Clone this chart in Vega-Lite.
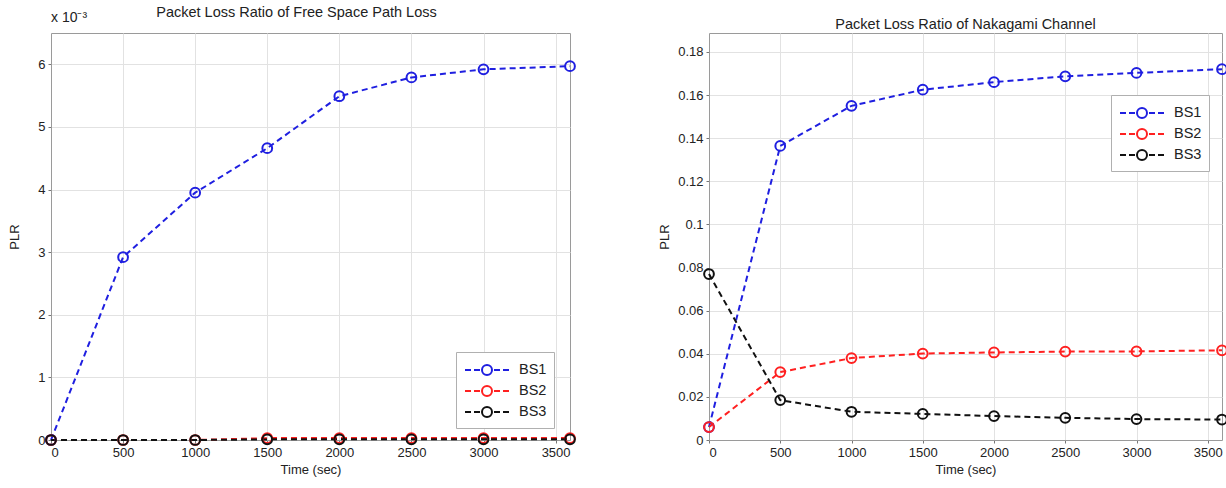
{
  "$schema": "https://vega.github.io/schema/vega-lite/v6.json",
  "background": "white",
  "padding": {"left": 8, "top": 4, "right": 0, "bottom": 0},
  "spacing": 78,
  "config": {
    "font": "Liberation Sans",
    "view": {"stroke": "#9a9a9a", "strokeWidth": 1},
    "axis": {
      "labelFont": "Liberation Sans", "labelFontSize": 13, "labelColor": "#222",
      "titleFont": "Liberation Sans", "titleFontSize": 13, "titleFontWeight": "normal", "titleColor": "#222",
      "domainColor": "#9a9a9a", "tickColor": "#777", "tickSize": 3,
      "gridColor": "#e2e2e2", "gridOpacity": 1, "labelPadding": 3
    },
    "title": {"font": "Liberation Sans", "fontSize": 14.5, "fontWeight": "normal", "color": "#222"},
    "legend": {
      "labelFont": "Liberation Sans", "labelFontSize": 14.5, "labelColor": "#222",
      "strokeColor": "#b0b0b0", "fillColor": "white", "padding": 7, "rowPadding": 1,
      "symbolType": "M-2.2,0H-1.6M-1.3,0H-0.7M0.7,0H1.3M1.6,0H2.2M-0.5,0A0.5,0.5,0,1,1,0.5,0A0.5,0.5,0,1,1,-0.5,0",
      "symbolSize": 400, "symbolStrokeWidth": 2, "symbolFillColor": "transparent",
      "symbolOffset": 13, "labelOffset": 21
    }
  },
  "resolve": {"legend": {"stroke": "independent", "color": "independent"}, "scale": {"color": "independent"}},
  "datasets": {
    "fspl": [
      {"time": 0, "series": "BS1", "plr": 0},
      {"time": 500, "series": "BS1", "plr": 0.00292},
      {"time": 1000, "series": "BS1", "plr": 0.00395},
      {"time": 1500, "series": "BS1", "plr": 0.00466},
      {"time": 2000, "series": "BS1", "plr": 0.00549},
      {"time": 2500, "series": "BS1", "plr": 0.00579},
      {"time": 3000, "series": "BS1", "plr": 0.00592},
      {"time": 3600, "series": "BS1", "plr": 0.00597},
      {"time": 0, "series": "BS2", "plr": 0},
      {"time": 500, "series": "BS2", "plr": 0},
      {"time": 1000, "series": "BS2", "plr": 0},
      {"time": 1500, "series": "BS2", "plr": 0.00003},
      {"time": 2000, "series": "BS2", "plr": 0.00003},
      {"time": 2500, "series": "BS2", "plr": 0.00003},
      {"time": 3000, "series": "BS2", "plr": 0.00003},
      {"time": 3600, "series": "BS2", "plr": 0.00003},
      {"time": 0, "series": "BS3", "plr": 0},
      {"time": 500, "series": "BS3", "plr": 0},
      {"time": 1000, "series": "BS3", "plr": 0},
      {"time": 1500, "series": "BS3", "plr": 0.00001},
      {"time": 2000, "series": "BS3", "plr": 0.00001},
      {"time": 2500, "series": "BS3", "plr": 0.00001},
      {"time": 3000, "series": "BS3", "plr": 0.00001},
      {"time": 3600, "series": "BS3", "plr": 0.00001}
    ],
    "naka": [
      {"time": 0, "series": "BS1", "plr": 0.006},
      {"time": 500, "series": "BS1", "plr": 0.1364},
      {"time": 1000, "series": "BS1", "plr": 0.155},
      {"time": 1500, "series": "BS1", "plr": 0.1625},
      {"time": 2000, "series": "BS1", "plr": 0.166},
      {"time": 2500, "series": "BS1", "plr": 0.1687},
      {"time": 3000, "series": "BS1", "plr": 0.1703},
      {"time": 3600, "series": "BS1", "plr": 0.172},
      {"time": 0, "series": "BS2", "plr": 0.006},
      {"time": 500, "series": "BS2", "plr": 0.0315},
      {"time": 1000, "series": "BS2", "plr": 0.038},
      {"time": 1500, "series": "BS2", "plr": 0.0401},
      {"time": 2000, "series": "BS2", "plr": 0.0406},
      {"time": 2500, "series": "BS2", "plr": 0.041},
      {"time": 3000, "series": "BS2", "plr": 0.0411},
      {"time": 3600, "series": "BS2", "plr": 0.0416},
      {"time": 0, "series": "BS3", "plr": 0.077},
      {"time": 500, "series": "BS3", "plr": 0.0185},
      {"time": 1000, "series": "BS3", "plr": 0.0131},
      {"time": 1500, "series": "BS3", "plr": 0.0121},
      {"time": 2000, "series": "BS3", "plr": 0.0111},
      {"time": 2500, "series": "BS3", "plr": 0.0103},
      {"time": 3000, "series": "BS3", "plr": 0.0097},
      {"time": 3600, "series": "BS3", "plr": 0.0095}
    ],
    "fsplNote": [{"time": 0, "plr": 0.0065, "txt": "x 10⁻³"}]
  },
  "hconcat": [
    {
      "width": 519, "height": 407,
      "title": {"text": "Packet Loss Ratio of Free Space Path Loss", "offset": -9, "dx": -14},
      "layer": [
        {
          "data": {"name": "fspl"},
          "mark": {"type": "line", "strokeDash": [6, 4], "strokeWidth": 2},
          "encoding": {
            "x": {"field": "time", "type": "quantitative", "scale": {"domain": [0, 3600], "nice": false},
                  "axis": {"values": [0, 500, 1000, 1500, 2000, 2500, 3000, 3500], "format": "d", "title": "Time (sec)", "titlePadding": 4}},
            "y": {"field": "plr", "type": "quantitative", "scale": {"domain": [0, 0.0065], "nice": false, "zero": true},
                  "axis": {"values": [0, 0.001, 0.002, 0.003, 0.004, 0.005, 0.006], "labelExpr": "format(datum.value*1000, 'd')", "title": "PLR", "titlePadding": 16}},
            "color": {"field": "series", "type": "nominal",
                      "scale": {"domain": ["BS1", "BS2", "BS3"], "range": ["#1f1fe0", "#ff2020", "#111111"]},
                      "legend": {"title": null, "orient": "none", "legendX": 405, "legendY": 319}}
          }
        },
        {
          "data": {"name": "fspl"},
          "mark": {"type": "point", "shape": "circle", "filled": false, "size": 95, "strokeWidth": 2, "opacity": 1},
          "encoding": {
            "x": {"field": "time", "type": "quantitative"},
            "y": {"field": "plr", "type": "quantitative"},
            "color": {"field": "series", "type": "nominal"}
          }
        },
        {
          "data": {"name": "fsplNote"},
          "mark": {"type": "text", "align": "left", "baseline": "bottom", "dy": -8, "fontSize": 14, "color": "#222"},
          "encoding": {
            "x": {"field": "time", "type": "quantitative"},
            "y": {"field": "plr", "type": "quantitative"},
            "text": {"field": "txt"}
          }
        }
      ]
    },
    {
      "width": 513, "height": 407,
      "title": {"text": "Packet Loss Ratio of Nakagami Channel", "offset": 1},
      "layer": [
        {
          "data": {"name": "naka"},
          "mark": {"type": "line", "strokeDash": [6, 4], "strokeWidth": 2},
          "encoding": {
            "x": {"field": "time", "type": "quantitative", "scale": {"domain": [0, 3600], "nice": false},
                  "axis": {"values": [0, 500, 1000, 1500, 2000, 2500, 3000, 3500], "format": "d", "title": "Time (sec)", "titlePadding": 4}},
            "y": {"field": "plr", "type": "quantitative", "scale": {"domain": [0, 0.1888], "nice": false, "zero": true},
                  "axis": {"values": [0, 0.02, 0.04, 0.06, 0.08, 0.1, 0.12, 0.14, 0.16, 0.18], "labelExpr": "format(datum.value, '.2~f')", "title": "PLR", "titlePadding": 6}},
            "color": {"field": "series", "type": "nominal",
                      "scale": {"domain": ["BS1", "BS2", "BS3"], "range": ["#1f1fe0", "#ff2020", "#111111"]},
                      "legend": {"title": null, "orient": "none", "legendX": 402, "legendY": 62}}
          }
        },
        {
          "data": {"name": "naka"},
          "mark": {"type": "point", "shape": "circle", "filled": false, "size": 95, "strokeWidth": 2, "opacity": 1},
          "encoding": {
            "x": {"field": "time", "type": "quantitative"},
            "y": {"field": "plr", "type": "quantitative"},
            "color": {"field": "series", "type": "nominal"}
          }
        }
      ]
    }
  ]
}
